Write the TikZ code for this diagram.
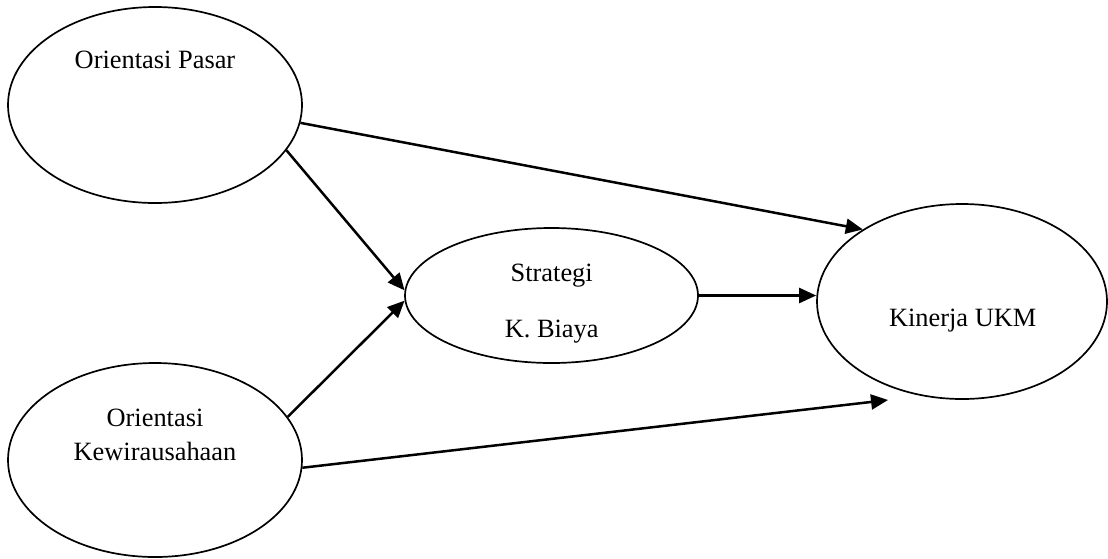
\documentclass[tikz,border=0pt]{standalone}
\usepackage{fontspec}
\setmainfont{Liberation Serif}
\usetikzlibrary{shapes.geometric,arrows.meta,calc}
\begin{document}
\begin{tikzpicture}[x=1pt,y=-1pt,
  oval/.style={draw,ellipse,line width=1.7pt,inner sep=0pt},
  lbl/.style={anchor=base,inner sep=0pt,font=\fontsize{26.4}{35}\selectfont},
  conn/.style={line width=2.5pt,-{Triangle[length=17pt,width=15pt]}}]
\useasboundingbox (0,0) rectangle (1108,558);
\node[oval,minimum width=294pt,minimum height=196pt] (op) at (155,105) {};
\node[oval,minimum width=294pt,minimum height=194pt] (ok) at (155,460) {};
\node[oval,minimum width=293pt,minimum height=135pt] (st) at (551.5,295.5) {};
\node[oval,minimum width=290pt,minimum height=195pt] (uk) at (962,301.5) {};
\node[lbl] (topl) at (155,68.5) {Orientasi Pasar};
\node[lbl] (okl1) at (155,426) {Orientasi};
\node[lbl] (okl2) at (155,460) {Kewirausahaan};
\node[lbl] (stl1) at (551.7,281) {Strategi};
\node[lbl] (stl2) at (551.7,337) {K. Biaya};
\node[lbl] (ukl) at (962.7,326.7) {Kinerja UKM};
\coordinate (free) at (888,400);
\draw[conn] (op.-7) -- (uk.144);
\draw[conn] (op.-19) -- (st.178);
\draw[conn] (ok.18) -- (st.182);
\draw[conn] (st.east) -- (st.east -| uk.west);
\draw[conn] (ok.-3) -- (free);
\end{tikzpicture}
\end{document}
